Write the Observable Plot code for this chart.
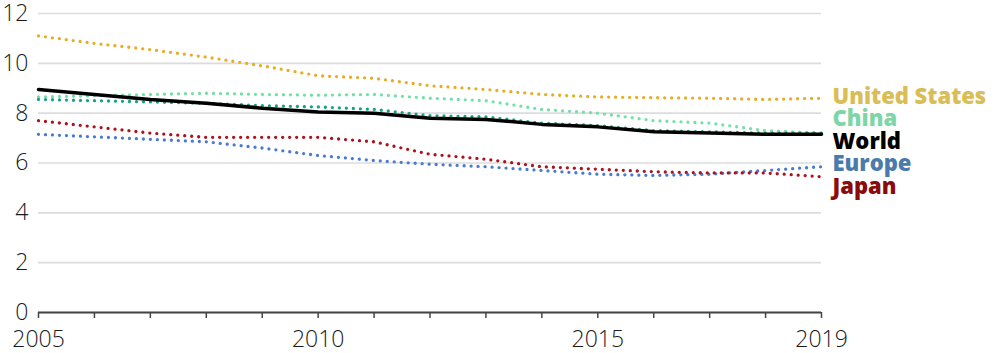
<!DOCTYPE html>
<html><head><meta charset="utf-8">
<script src="https://cdn.jsdelivr.net/npm/d3@7"></script>
<script src="https://cdn.jsdelivr.net/npm/@observablehq/plot@0.6"></script>
<style>
body{margin:0;background:#fff;}
#chart svg{display:block;}
</style>
</head><body><div id="chart"></div>
<script>
const years = [2005,2006,2007,2008,2009,2010,2011,2012,2013,2014,2015,2016,2017,2018,2019];
const labelYears = [2005,2010,2015,2019];
const yTicks = [0,2,4,6,8,10,12];

const unitedStates = [11.1,10.8,10.55,10.25,9.9,9.5,9.4,9.1,8.95,8.75,8.65,8.62,8.6,8.55,8.6];
const china        = [8.65,8.7,8.75,8.8,8.75,8.72,8.75,8.6,8.5,8.15,8.0,7.7,7.6,7.3,7.2];
const worldDotted  = [8.55,8.5,8.45,8.4,8.3,8.25,8.15,7.9,7.85,7.6,7.5,7.3,7.25,7.2,7.2];
const world        = [8.95,8.75,8.55,8.4,8.2,8.05,8.0,7.8,7.75,7.55,7.45,7.25,7.2,7.15,7.15];
const europe       = [7.15,7.05,6.95,6.85,6.6,6.3,6.1,5.95,5.85,5.7,5.55,5.5,5.55,5.7,5.85];
const japan        = [7.7,7.45,7.2,7.03,7.03,7.03,6.85,6.35,6.15,5.85,5.75,5.65,5.6,5.6,5.45];

const seriesNames  = ["United States","China","World (dotted)","Europe","Japan","World"];
const seriesValues = [unitedStates, china, worldDotted, europe, japan, world];
const lineColors   = ["#e6ad25","#72e0a8","#17a383","#4a7ace","#ad111d","#000000"];
const labelColors  = ["#d9bd56","#7dd5a8",null,"#4a7bab","#8b0b0b","#000000"];
const dotted       = [true,true,true,true,true,false];
const labelled     = [true,true,false,true,true,true];

const W = 995, H = 353;
const mTop = 13, mBottom = 41, mLeft = 38, mRight = 174;
const yDomain = [0,12];

// long table
const rows = [];
seriesNames.forEach((name,i) => years.forEach((yr,j) => rows.push({series:name, year:yr, value:seriesValues[i][j]})));

// dodge end labels (in data units)
const pxPerUnit = (H - mTop - mBottom) / (yDomain[1]-yDomain[0]);
const gap = 22.5 / pxPerUnit;
let labels = seriesNames.map((n,i) => ({series:n, value: seriesValues[i][seriesValues[i].length-1], color: labelColors[i]}))
  .filter((d,i) => labelled[i])
  .sort((a,b) => b.value - a.value);
let clusters = labels.map(d => ({items:[d], mean:d.value}));
function place(c){ const n=c.items.length; c.top = c.mean + gap*(n-1)/2; c.bottom = c.mean - gap*(n-1)/2; }
clusters.forEach(place);
let merged = true;
while (merged) {
  merged = false;
  for (let k=0;k<clusters.length-1;k++){
    const a = clusters[k], b = clusters[k+1];
    if (a.bottom - b.top < gap) {
      const items = a.items.concat(b.items);
      const c = {items, mean: d3.mean(items, d=>d.value)};
      place(c);
      clusters.splice(k,2,c);
      merged = true; break;
    }
  }
}
clusters.forEach(c => c.items.forEach((d,i) => d.labelY = c.top - i*gap));

const fam = "'Open Sans', 'DejaVu Sans', sans-serif";

const chart = Plot.plot({
  width: W, height: H,
  marginTop: mTop, marginBottom: mBottom, marginLeft: mLeft, marginRight: mRight,
  style: {fontFamily: fam, background:"#fff", overflow:"visible"},
  x: {domain: [2005,2019]},
  y: {domain: yDomain},
  marks: [
    Plot.gridY(yTicks, {stroke:"#dcdcdc", strokeOpacity:1, strokeWidth:1.6}),
    Plot.axisY(yTicks, {tickSize:0, tickPadding:10, fontSize:23, fill:"#1a1a1a", fontWeight:300, label:null}),
    Plot.axisX(years, {tickSize:6, tickPadding:12, stroke:"#444", strokeWidth:1.5, fontSize:23, fill:"#1a1a1a", fontWeight:300,
      tickFormat: d => labelYears.includes(d) ? String(d) : "", label:null}),
    Plot.ruleY([0], {stroke:"#444", strokeWidth:2}),
    ...seriesNames.map((name,i) => Plot.line(rows.filter(r => r.series===name), {
      x:"year", y:"value", stroke: lineColors[i],
      strokeWidth: dotted[i] ? 3.3 : 3.5,
      strokeDasharray: dotted[i] ? "0 7" : null,
      strokeLinecap: "round", strokeLinejoin:"round", curve:"linear"
    })),
    Plot.text(labels, {x: () => 2019, y:"labelY", text:"series", fill:"color", textAnchor:"start", dx:11,
      fontSize:22, fontWeight:800, fontFamily: fam})
  ]
});
document.getElementById("chart").appendChild(chart);
</script>
</body></html>
